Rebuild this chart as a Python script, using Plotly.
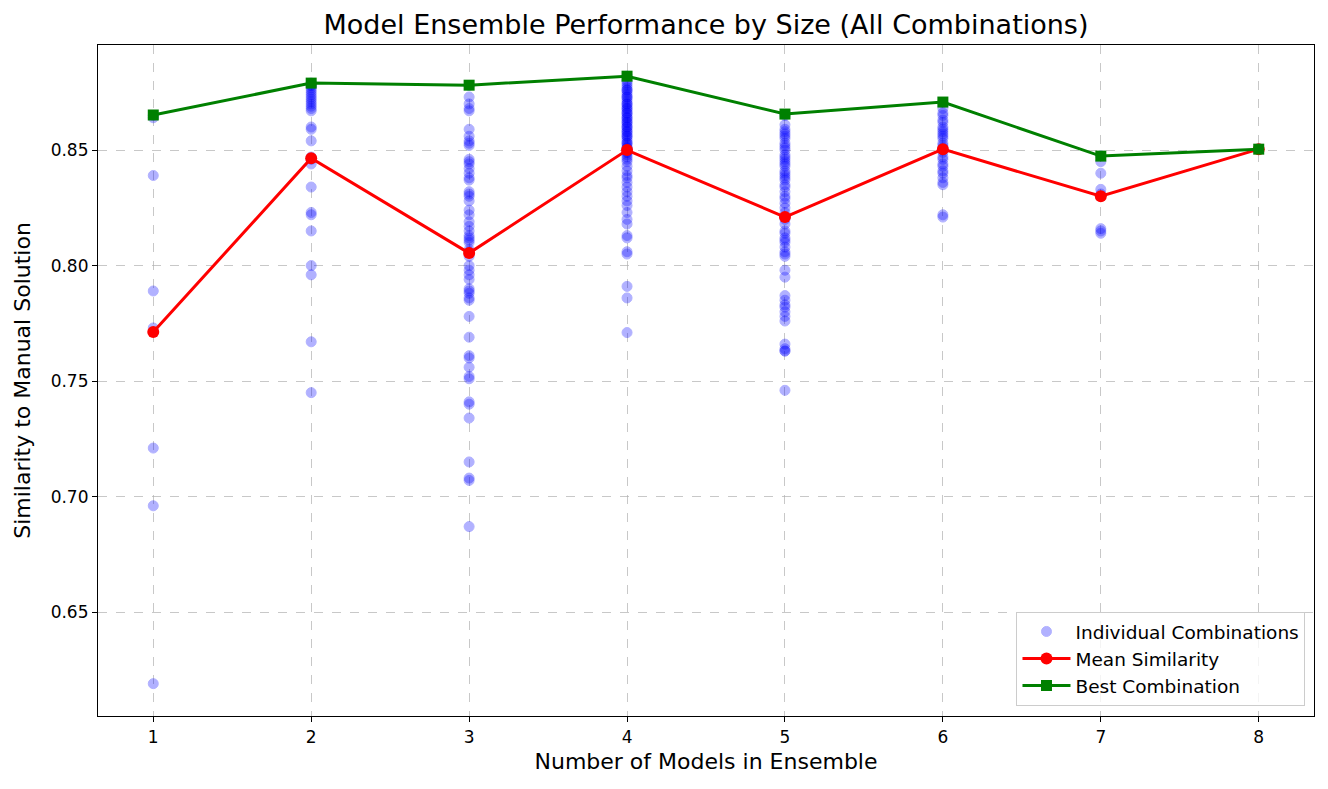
import plotly.graph_objects as go

sizes = [1, 2, 3, 4, 5, 6, 7, 8]

combo_1 = [0.865, 0.864, 0.839, 0.789, 0.773, 0.721, 0.696, 0.619]
combo_2 = [0.879, 0.878, 0.878, 0.877, 0.876, 0.875, 0.874, 0.873, 0.872, 0.871, 0.870,
           0.869, 0.868, 0.867, 0.860, 0.859, 0.854, 0.847, 0.846, 0.844, 0.834, 0.823,
           0.822, 0.815, 0.800, 0.796, 0.767, 0.745]
combo_3 = [0.878, 0.873, 0.870, 0.868, 0.867, 0.859, 0.856, 0.854, 0.853, 0.852,
           0.846, 0.845, 0.844, 0.842, 0.840, 0.838, 0.837, 0.832, 0.831, 0.830, 0.828,
           0.824, 0.822, 0.819, 0.817, 0.815, 0.813, 0.812, 0.811, 0.810,
           0.807, 0.806, 0.804, 0.800, 0.798, 0.796, 0.794, 0.790, 0.789, 0.788, 0.786, 0.785,
           0.778, 0.769, 0.761, 0.760, 0.756, 0.752, 0.751,
           0.741, 0.740, 0.734, 0.715, 0.708, 0.707, 0.687]
combo_4 = [0.882, 0.880, 0.879, 0.878, 0.877, 0.876, 0.876, 0.875, 0.874, 0.873, 0.873,
           0.872, 0.871, 0.870, 0.870, 0.869, 0.868, 0.868, 0.867, 0.866, 0.866, 0.865,
           0.864, 0.864, 0.863, 0.862, 0.862, 0.861, 0.860, 0.860, 0.859, 0.858, 0.858,
           0.857, 0.856, 0.856, 0.855, 0.854, 0.853, 0.853, 0.852, 0.851, 0.851, 0.850,
           0.849, 0.849, 0.848, 0.847, 0.846, 0.845, 0.843, 0.841, 0.839, 0.838, 0.836,
           0.834, 0.832, 0.830, 0.828, 0.826, 0.823, 0.820, 0.818, 0.813, 0.812, 0.806,
           0.805, 0.791, 0.786, 0.771]
combo_5 = [0.865, 0.861, 0.859, 0.858, 0.857, 0.856, 0.855, 0.853, 0.852, 0.851, 0.850,
           0.848, 0.847, 0.846, 0.845, 0.844, 0.843, 0.841, 0.840, 0.839, 0.838, 0.837,
           0.835, 0.834, 0.832, 0.830, 0.829, 0.827, 0.825, 0.823, 0.821, 0.820, 0.818,
           0.815, 0.814, 0.812, 0.811, 0.810, 0.808, 0.806, 0.805, 0.804,
           0.798, 0.795, 0.787, 0.785, 0.783, 0.782, 0.780, 0.778, 0.776,
           0.766, 0.764, 0.763, 0.763, 0.746]
combo_6 = [0.8705, 0.868, 0.866, 0.865, 0.863, 0.862, 0.860, 0.859, 0.858, 0.857, 0.856,
           0.855, 0.853, 0.852, 0.851, 0.850, 0.849, 0.847, 0.846, 0.844, 0.843, 0.841,
           0.840, 0.838, 0.836, 0.835, 0.822, 0.821]
combo_7 = [0.8475, 0.845, 0.840, 0.833, 0.831, 0.816, 0.815, 0.814]
combo_8 = [0.8505]

mean_similarity = [0.7712, 0.8465, 0.8054, 0.8500, 0.8210, 0.8504, 0.8300, 0.8504]
best_combination = [0.8652, 0.8790, 0.8781, 0.8820, 0.8656, 0.8708, 0.8474, 0.8504]

combos = [combo_1, combo_2, combo_3, combo_4, combo_5, combo_6, combo_7, combo_8]
scatter_x = []
scatter_y = []
for s, vals in zip(sizes, combos):
    scatter_x += [s] * len(vals)
    scatter_y += vals

font_family = "DejaVu Sans, sans-serif"

fig = go.Figure()
fig.add_trace(go.Scatter(
    x=scatter_x, y=scatter_y, mode="markers", name="Individual Combinations",
    marker=dict(color="blue", size=10, opacity=0.3, line=dict(width=1, color="blue")),
))
fig.add_trace(go.Scatter(
    x=sizes, y=mean_similarity, mode="lines+markers", name="Mean Similarity",
    line=dict(color="red", width=3),
    marker=dict(color="red", size=12, symbol="circle"),
))
fig.add_trace(go.Scatter(
    x=sizes, y=best_combination, mode="lines+markers", name="Best Combination",
    line=dict(color="green", width=3),
    marker=dict(color="green", size=11, symbol="square"),
))

axis_common = dict(
    showline=True, linecolor="black", linewidth=1.2, mirror=True,
    ticks="outside", ticklen=5, tickwidth=1.2, tickcolor="black",
    showgrid=True, gridcolor="rgba(176,176,176,0.7)", griddash="dash", gridwidth=1,
    zeroline=False, tickfont=dict(size=17, color="black", family=font_family),
)

fig.update_layout(
    width=1328, height=789,
    paper_bgcolor="white", plot_bgcolor="white",
    margin=dict(l=90, r=22, t=37, b=81),
    font=dict(family=font_family, color="black"),
    title=dict(text="Model Ensemble Performance by Size (All Combinations)",
               x=0.5, xref="paper", xanchor="center", y=0.9785, yanchor="middle",
               font=dict(size=27, color="black", family=font_family)),
    xaxis=dict(range=[0.65, 8.35], tickvals=sizes,
               title=dict(text="Number of Models in Ensemble", font=dict(size=22), standoff=8),
               **axis_common),
    yaxis=dict(range=[0.605, 0.8955], tickvals=[0.65, 0.70, 0.75, 0.80, 0.85], tickformat=".2f",
               title=dict(text="Similarity to Manual Solution", font=dict(size=22), standoff=13),
               **axis_common),
    legend=dict(x=0.993, y=0.015, xanchor="right", yanchor="bottom",
                bgcolor="rgba(255,255,255,0.8)", bordercolor="#cccccc", borderwidth=1,
                font=dict(size=18.5, color="black", family=font_family),
                itemwidth=48, tracegroupgap=2),
    showlegend=True,
)

fig.write_html("out.html")
